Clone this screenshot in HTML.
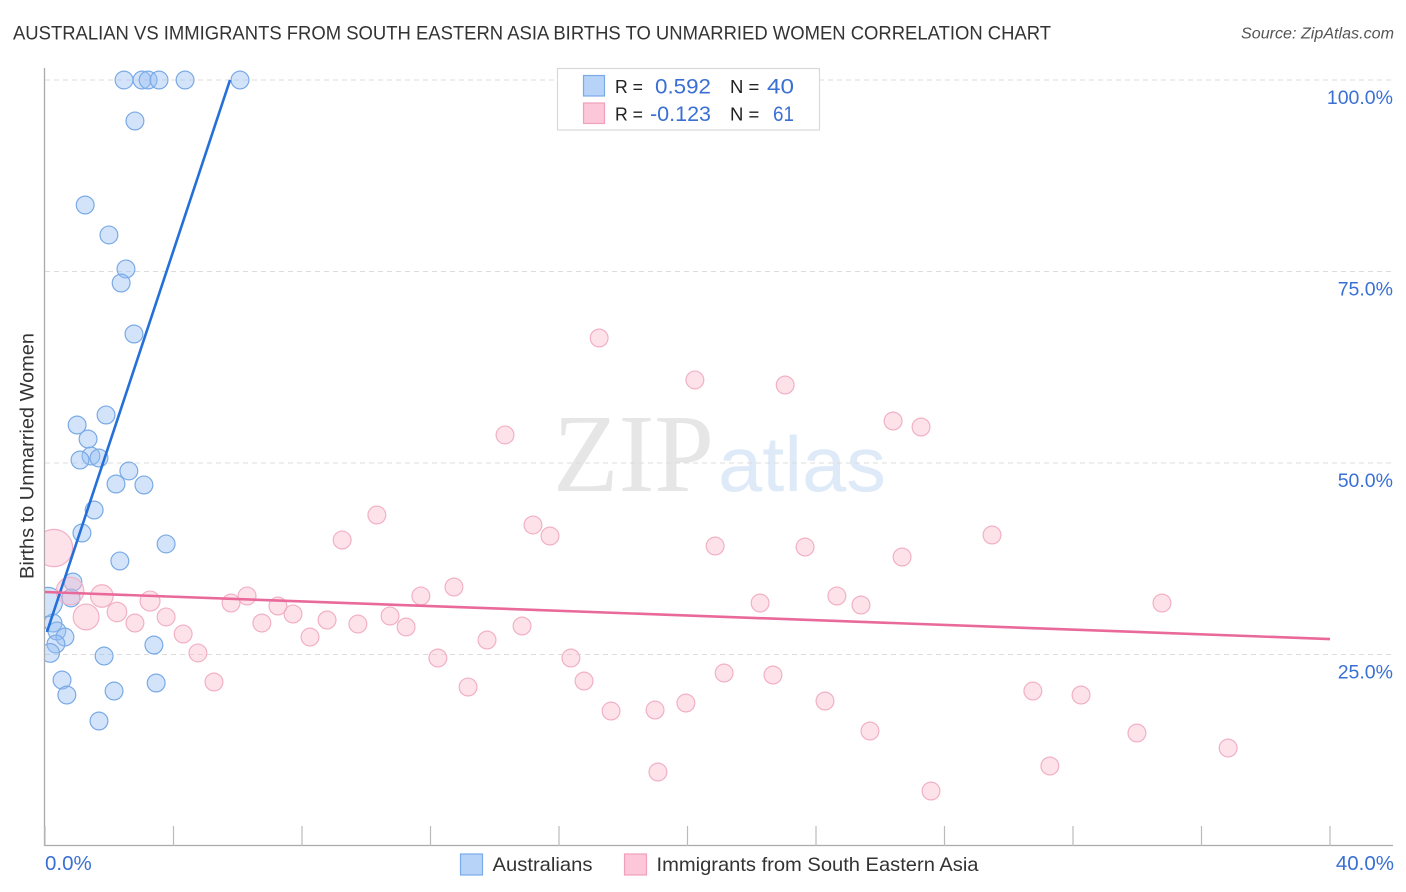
<!DOCTYPE html>
<html lang="en">
<head>
<meta charset="utf-8">
<title>Australian vs Immigrants from South Eastern Asia Births to Unmarried Women Correlation Chart</title>
<style>
html,body{margin:0;padding:0;background:#fff;}
svg{display:block;}
text{font-family:"Liberation Sans",sans-serif;}
</style>
</head>
<body>
<svg id="chart" xmlns="http://www.w3.org/2000/svg" width="1406" height="892" viewBox="0 0 1406 892">
  <defs><clipPath id="plot-clip"><rect x="45" y="60" width="1360" height="786"/></clipPath></defs>
  <text x="13" y="39.500" font-size="19.500" fill="#333" textLength="1038" lengthAdjust="spacingAndGlyphs">AUSTRALIAN VS IMMIGRANTS FROM SOUTH EASTERN ASIA BIRTHS TO UNMARRIED WOMEN CORRELATION CHART</text>
  <text x="1394" y="38.500" font-size="15.500" font-style="italic" fill="#555" text-anchor="end" textLength="153" lengthAdjust="spacingAndGlyphs">Source: ZipAtlas.com</text>

  <g>
    <text x="553" y="491" font-size="111" fill="#e6e6e6" textLength="161" lengthAdjust="spacingAndGlyphs" style="font-family:'Liberation Serif',serif">ZIP</text>
    <text x="718" y="491" font-size="78" fill="#deeaf8" textLength="168" lengthAdjust="spacingAndGlyphs">atlas</text>
  </g>

  <g id="grid"></g>
  <g id="axes">
    <line x1="44.500" y1="68" x2="44.500" y2="846" stroke="#aaa" stroke-width="1.300"/>
    <line x1="44" y1="845.500" x2="1393" y2="845.500" stroke="#aaa" stroke-width="1.300"/>
  </g>
  <g id="x-ticks"></g>
  <g id="y-labels"></g>
  <g id="x-labels"></g>
  <g id="points-blue" clip-path="url(#plot-clip)"></g>
  <g id="points-pink" clip-path="url(#plot-clip)"></g>
  <g id="trends"></g>

  <text transform="translate(33.500,456) rotate(-90)" font-size="19.500" fill="#333" text-anchor="middle" textLength="246" lengthAdjust="spacingAndGlyphs">Births to Unmarried Women</text>

  <g>
    <rect x="557.500" y="68.500" width="262" height="61.500" fill="#fff" stroke="#d9d9d9" stroke-width="1.200"/>
    <rect x="583.500" y="75.500" width="21" height="20.500" fill="#b7d3f8" stroke="#7aaae8" stroke-width="1.200"/>
    <rect x="583.500" y="103" width="21" height="20.500" fill="#fcc7d8" stroke="#f0a0ba" stroke-width="1.200"/>
    <text x="615" y="93" font-size="18.500" fill="#222" textLength="28" lengthAdjust="spacingAndGlyphs">R =</text>
    <text x="655" y="93.500" font-size="21.500" fill="#3a70d4" textLength="56" lengthAdjust="spacingAndGlyphs">0.592</text>
    <text x="730" y="93" font-size="18.500" fill="#222">N =</text>
    <text x="767" y="93.500" font-size="21.500" fill="#3a70d4" textLength="27" lengthAdjust="spacingAndGlyphs">40</text>
    <text x="615" y="120.500" font-size="18.500" fill="#222" textLength="28" lengthAdjust="spacingAndGlyphs">R =</text>
    <text x="650" y="121" font-size="21.500" fill="#3a70d4" textLength="61" lengthAdjust="spacingAndGlyphs">-0.123</text>
    <text x="730" y="120.500" font-size="18.500" fill="#222">N =</text>
    <text x="773" y="121" font-size="21.500" fill="#3a70d4" textLength="21" lengthAdjust="spacingAndGlyphs">61</text>
  </g>

  <g>
    <rect x="460.500" y="854" width="22" height="21" fill="#b7d3f8" stroke="#7aaae8" stroke-width="1.200"/>
    <text x="492.500" y="871" font-size="19.500" fill="#333" textLength="100" lengthAdjust="spacingAndGlyphs">Australians</text>
    <rect x="624.500" y="854" width="22" height="21" fill="#fcc7d8" stroke="#f0a0ba" stroke-width="1.200"/>
    <text x="656.500" y="871" font-size="19.500" fill="#333" textLength="322" lengthAdjust="spacingAndGlyphs">Immigrants from South Eastern Asia</text>
  </g>
</svg>
<script>
const blueX = [2.46,3.02,3.21,3.55,4.36,6.07,2.80,1.25,1.99,2.52,2.37,2.77,1.90,1.00,1.34,1.43,1.68,1.09,2.61,2.21,3.08,1.53,1.15,3.77,2.33,0.87,0.81,0.09,0.25,0.37,0.62,0.34,0.16,1.84,3.39,0.53,0.68,2.15,3.46,1.68];
const blueY = [100,100,100,100,100,100,94.65,83.68,79.77,75.33,73.50,66.84,56.27,54.96,53.13,50.91,50.65,50.39,48.96,47.26,47.13,43.86,40.86,39.43,37.21,34.46,32.38,31.85,29.11,28.07,27.28,26.37,25.20,24.80,26.24,21.67,19.71,20.23,21.28,16.32];
const blueWeight = [1,1,1,1,1,1,1,1,1,1,1,1,1,1,1,1,1,1,1,1,1,1,1,1,1,1,1,2.7,1,1,1,1,1.1,1,1,1,1,1,1,1];
const pinkX = [17.25,20.23,23.04,26.40,27.27,14.32,10.33,15.19,15.72,9.25,20.86,23.66,26.68,29.48,0.28,0.78,1.77,1.28,2.24,2.80,3.27,3.77,4.30,4.76,5.26,5.79,6.29,6.75,7.25,7.72,8.25,8.78,9.74,10.74,11.24,11.70,12.73,12.23,13.17,13.76,14.85,16.37,16.78,17.62,18.99,19.95,19.08,21.14,22.66,22.26,24.65,25.40,24.28,25.68,27.58,30.75,32.25,31.28,33.99,34.77,36.83];
const pinkY = [66.32,60.84,60.18,55.48,54.70,53.66,43.21,41.91,40.47,39.95,39.16,39.03,37.73,40.60,38.90,33.29,32.64,29.90,30.55,29.11,31.98,29.90,27.68,25.20,21.41,31.72,32.64,29.11,31.33,30.29,27.28,29.50,28.98,30.03,28.59,32.64,33.81,24.54,20.76,26.89,28.72,24.54,21.54,17.62,17.75,18.67,9.66,22.58,22.32,31.72,32.64,31.46,18.93,15.01,7.18,20.23,19.71,10.44,14.75,31.72,12.79];
const pinkWeight = [1,1,1,1,1,1,1,1,1,1,1,1,1,1,4.4,2.4,1.6,2.1,1.2,1,1.25,1,1,1,1,1,1,1,1,1,1,1,1,1,1,1,1,1,1,1,1,1,1,1,1,1,1,1,1,1,1,1,1,1,1,1,1,1,1,1,1];
const blueTrendX = [0.06,5.76];
const blueTrendY = [27.94,100];
const pinkTrendX = [0,40];
const pinkTrendY = [33.16,27.02];
const gridValues = [100,75,50,25];
const yTickLabels = ["100.0%","75.0%","50.0%","25.0%"];
const xTickValues = [0,4,8,12,16,20,24,28,32,36,40];
const xEdgeValues = [0,40];
const xEdgeLabels = ["0.0%","40.0%"];

const NS = "http://www.w3.org/2000/svg";
function xScale(v){ return 45 + v * 32.125; }
function yScale(v){ return 846 - v * 7.66; }
function rScale(w){ return 8.9 * Math.sqrt(w); }
function make(tag, attrs, parent){
  const el = document.createElementNS(NS, tag);
  for (const k in attrs) el.setAttribute(k, attrs[k]);
  parent.appendChild(el);
  return el;
}

const grid = document.getElementById("grid");
gridValues.forEach(function(v){
  const gl = make("line", {x1:45, x2:1393, y1:yScale(v), y2:yScale(v), stroke:"#dcdcdc", "stroke-width":1, "stroke-dasharray":"5 4"}, grid);
  
  
});

const xt = document.getElementById("x-ticks");
xTickValues.forEach(function(v){
  const t = make("line", {x1:xScale(v), x2:xScale(v), y1:826, y2:846, stroke:"#bbb", "stroke-width":1.200}, xt);
  
  
});

const yl = document.getElementById("y-labels");
yTickLabels.forEach(function(s, i){
  const t = make("text", {x:1393, y:yScale(gridValues[i]) + 24, "font-size":19.500, fill:"#3a70d4", "text-anchor":"end"}, yl);
  t.textContent = s;
  
  
});

const xl = document.getElementById("x-labels");
xEdgeLabels.forEach(function(s, i){
  const anchorEnd = i === xEdgeLabels.length - 1;
  const t = make("text", {x: anchorEnd ? 1394 : xScale(xEdgeValues[i]), y:870, "font-size":20.500, fill:"#3a70d4", "text-anchor": anchorEnd ? "end" : "start"}, xl);
  t.textContent = s;
  
  
});

const gb = document.getElementById("points-blue");
blueX.forEach(function(v, i){
  const c = make("circle", {cx:xScale(v), cy:yScale(blueY[i]), r:rScale(blueWeight[i]), fill:"rgba(150,190,242,0.42)", stroke:"#7aaae6", "stroke-width":1.200}, gb);
  
  
});

const gp = document.getElementById("points-pink");
pinkX.forEach(function(v, i){
  const c = make("circle", {cx:xScale(v), cy:yScale(pinkY[i]), r:rScale(pinkWeight[i]), fill:"rgba(250,185,205,0.42)", stroke:"#f2b0c6", "stroke-width":1.200}, gp);
  
  
});

const tr = document.getElementById("trends");
const lb = make("line", {x1:xScale(blueTrendX[0]), y1:yScale(blueTrendY[0]), x2:xScale(blueTrendX[1]), y2:yScale(blueTrendY[1]), stroke:"#2570d8", "stroke-width":2.600}, tr);


const lp = make("line", {x1:xScale(pinkTrendX[0]), y1:yScale(pinkTrendY[0]), x2:xScale(pinkTrendX[1]), y2:yScale(pinkTrendY[1]), stroke:"#e96a9a", "stroke-width":2.600}, tr);


</script>
</body>
</html>
